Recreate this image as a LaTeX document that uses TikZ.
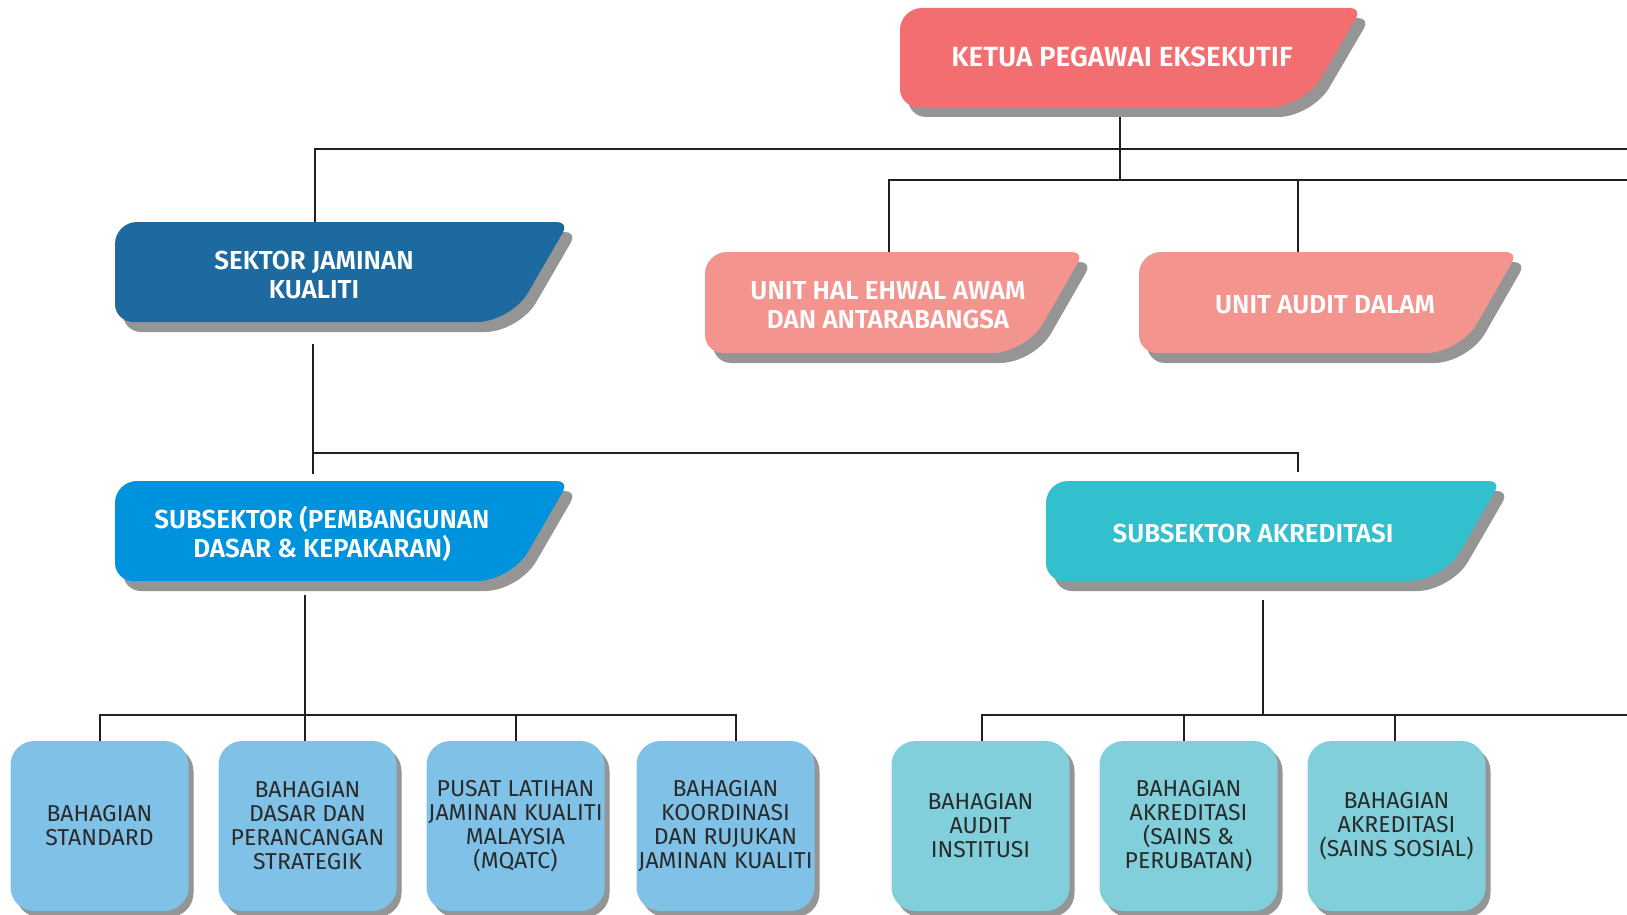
\documentclass[tikz,border=0pt]{standalone}
\usepackage{fontspec}
\setmainfont{Fira Sans}[BoldFont={Fira Sans SemiBold}]
\usetikzlibrary{calc,shadows}
\definecolor{ceoc}{HTML}{F26E71}
\definecolor{unitc}{HTML}{F4948E}
\definecolor{sjkc}{HTML}{1C6AA0}
\definecolor{spdkc}{HTML}{0093DD}
\definecolor{sac}{HTML}{32C0CF}
\definecolor{lblue}{HTML}{80C1E8}
\definecolor{lteal}{HTML}{80CFDA}
\definecolor{shadowgray}{HTML}{959595}
\definecolor{linec}{HTML}{231F20}
\definecolor{textdark}{HTML}{2A2A2A}
% rounded corner from point #1 via corner #2 to point #3
\newcommand\rc[3]{.. controls ($(#1)!0.55!(#2)$) and ($(#3)!0.55!(#2)$) .. (#3)}
% #1 x1, #2 y1, #3 x2, #4 y2, #5 slant, #6 fill, #7 dx, #8 dy
\newcommand\hdshape[8]{%
  \coordinate (TL) at ({#1+#7},{#2+#8});
  \coordinate (TR) at ({#3+#7},{#2+#8});
  \coordinate (BR) at ({#3-#5+#7},{#4+#8});
  \coordinate (BL) at ({#1+#7},{#4+#8});
  \coordinate (p1) at ($(TL)!22pt!(BL)$);
  \coordinate (p2) at ($(TL)!22pt!(TR)$);
  \coordinate (p3) at ($(TR)!12pt!(TL)$);
  \coordinate (p4) at ($(TR)!12pt!(BR)$);
  \coordinate (p5) at ($(BR)!34pt!(TR)$);
  \coordinate (p6) at ($(BR)!34pt!(BL)$);
  \coordinate (p7) at ($(BL)!18pt!(BR)$);
  \coordinate (p8) at ($(BL)!18pt!(TL)$);
  \fill[#6] (p1) \rc{p1}{TL}{p2} -- (p3) \rc{p3}{TR}{p4}
    -- (p5) \rc{p5}{BR}{p6} -- (p7) \rc{p7}{BL}{p8} -- cycle;
}
\newcommand\hdbox[6]{%
  \hdshape{#1}{#2}{#3}{#4}{#5}{shadowgray}{8}{10}%
  \hdshape{#1}{#2}{#3}{#4}{#5}{#6}{0}{0}%
}
\tikzset{
  conn/.style={draw=linec, line width=2.6pt},
  hdtext/.style={inner sep=0pt, align=center, text=white,
    font=\bfseries\fontsize{26}{29.5}\selectfont},
  lowbox/.style={rectangle, rounded corners=24pt, minimum width=178pt,
    minimum height=170pt, inner sep=0pt, align=center, text=textdark,
    font=\fontsize{23}{24}\selectfont,
    drop shadow={shadow xshift=5pt, shadow yshift=-6pt, opacity=1, fill=shadowgray}},
  bluebox/.style={lowbox, fill=lblue},
  tealbox/.style={lowbox, fill=lteal}
}
\begin{document}
\begin{tikzpicture}[x=1pt,y=-1pt]
\useasboundingbox (0,0) rectangle (1627,915);
\fill[white] (0,0) rectangle (1627,915);

% header boxes
\hdbox{900}{8}{1362}{107}{58}{ceoc}
\hdbox{115}{222}{569}{322}{58}{sjkc}
\hdbox{705}{252}{1084}{353}{58}{unitc}
\hdbox{1139}{252}{1518}{353}{58}{unitc}
\hdbox{115}{481}{569}{581}{58}{spdkc}
\hdbox{1046}{481}{1501}{581}{58}{sac}

\node[hdtext, font=\bfseries\fontsize{27.8}{29.5}\selectfont] (ceo) at (1122,57) {KETUA PEGAWAI EKSEKUTIF};
\node[hdtext] (sjk) at (314,275) {SEKTOR JAMINAN\\KUALITI};
\node[hdtext] (unit1) at (888,305) {UNIT HAL EHWAL AWAM\\DAN ANTARABANGSA};
\node[hdtext] (unit2) at (1325,305) {UNIT AUDIT DALAM};
\node[hdtext] (spdk) at (322,534) {SUBSEKTOR (PEMBANGUNAN\\DASAR \& KEPAKARAN)};
\node[hdtext] (sa) at (1253,533) {SUBSEKTOR AKREDITASI};

% lower boxes
\node[bluebox] (b1) at (99.5,826) {BAHAGIAN\\STANDARD};
\node[bluebox] (b2) at (307.5,826) {BAHAGIAN\\DASAR DAN\\PERANCANGAN\\STRATEGIK};
\node[bluebox] (b3) at (515.5,826) {PUSAT LATIHAN\\JAMINAN KUALITI\\MALAYSIA\\(MQATC)};
\node[bluebox] (b4) at (725.5,826) {BAHAGIAN\\KOORDINASI\\DAN RUJUKAN\\JAMINAN KUALITI};
\node[tealbox] (b5) at (980.5,826) {BAHAGIAN\\AUDIT\\INSTITUSI};
\node[tealbox] (b6) at (1188.5,826) {BAHAGIAN\\AKREDITASI\\(SAINS \&\\PERUBATAN)};
\node[tealbox] (b7) at (1396.5,826) {BAHAGIAN\\AKREDITASI\\(SAINS SOSIAL)};

% connector end points
\coordinate (ceoS) at (1120,117);
\coordinate (ceoJ) at (1120,180);
\coordinate (rA) at (1627,149);
\coordinate (rB) at (1627,180);
\coordinate (sjkN) at (315,222);
\coordinate (u1N) at (889,252);
\coordinate (u2N) at (1298,252);
\coordinate (u2J) at (1298,180);
\coordinate (sjkS) at (313,344);
\coordinate (spdkN) at (313,474);
\coordinate (h3L) at (313,453);
\coordinate (saN) at (1298,472);
\coordinate (spdkS) at (305,595);
\coordinate (b1T) at (100,741);
\coordinate (b2T) at (305,741);
\coordinate (b3T) at (516,741);
\coordinate (b3J) at (516,715);
\coordinate (b4J) at (736,715);
\coordinate (b4T) at (736,741);
\coordinate (saS) at (1263,600);
\coordinate (saJ) at (1263,715);
\coordinate (b5T) at (982,741);
\coordinate (rC) at (1627,715);
\coordinate (b6T) at (1184,741);
\coordinate (b6J) at (1184,715);
\coordinate (b7T) at (1395,741);
\coordinate (b7J) at (1395,715);

\draw[conn] (sjkN) |- (rA);
\draw[conn] (ceoS) -- (ceoJ);
\draw[conn] (u1N) |- (rB);
\draw[conn] (u2N) -- (u2J);
\draw[conn] (sjkS) -- (spdkN);
\draw[conn] (h3L) -| (saN);
\draw[conn] (spdkS) -- (b2T);
\draw[conn] (b1T) |- (b4J) -- (b4T);
\draw[conn] (b3T) -- (b3J);
\draw[conn] (saS) -- (saJ);
\draw[conn] (b5T) |- (rC);
\draw[conn] (b6T) -- (b6J);
\draw[conn] (b7T) -- (b7J);
\end{tikzpicture}
\end{document}
